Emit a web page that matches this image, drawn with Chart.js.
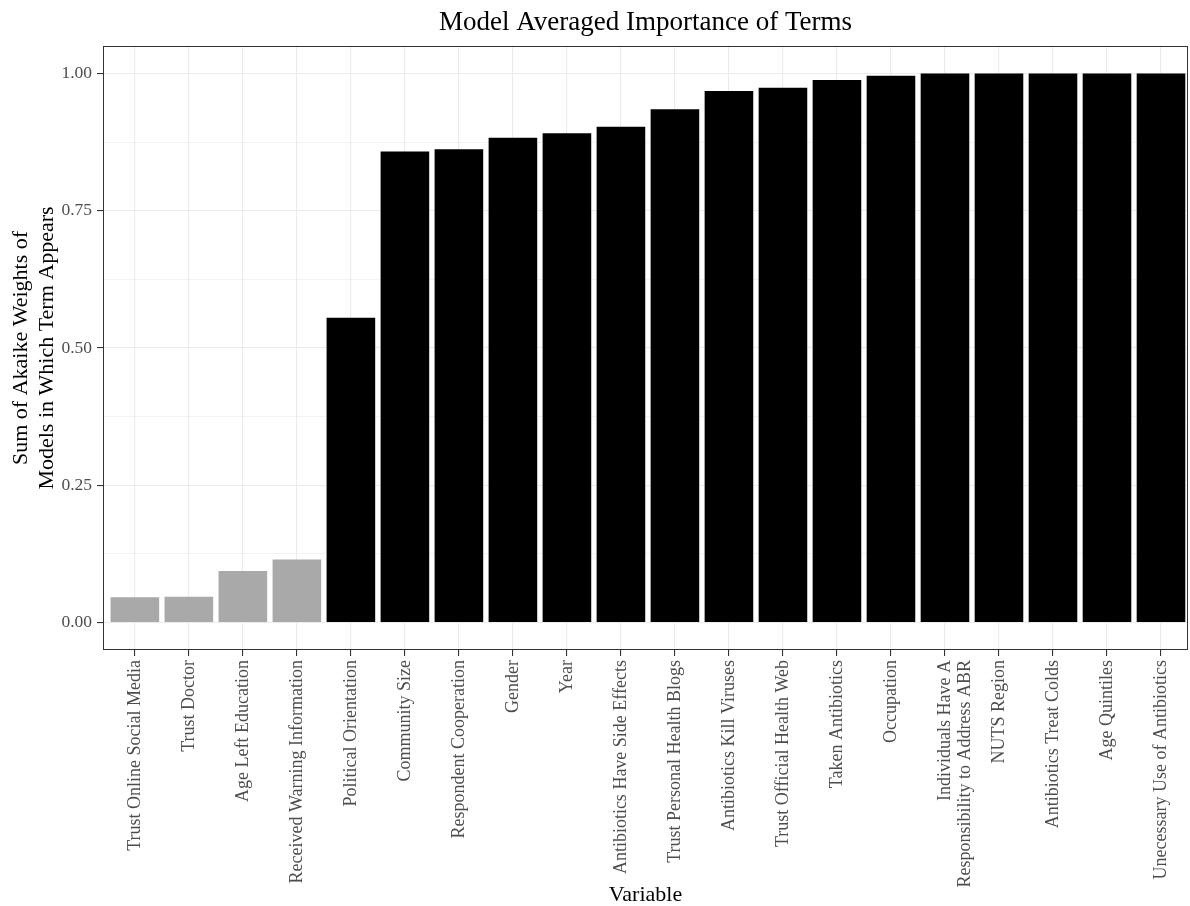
<!DOCTYPE html>
<html>
<head>
<meta charset="utf-8">
<title>Model Averaged Importance of Terms</title>
<script src="https://cdn.jsdelivr.net/npm/chart.js@4/dist/chart.umd.min.js"></script>
<style>
    body { margin: 0; background: #fff; }
    #wrap { width: 1190px; height: 906px; }
</style>
</head>
<body>
<div id="wrap"><canvas id="chart" width="1190" height="906"></canvas></div>
<script>
// =====================
// DATA
// =====================
const variables = [
    "Trust Online Social Media",
    "Trust Doctor",
    "Age Left Education",
    "Received Warning Information",
    "Political Orientation",
    "Community Size",
    "Respondent Cooperation",
    "Gender",
    "Year",
    "Antibiotics Have Side Effects",
    "Trust Personal Health Blogs",
    "Antibiotics Kill Viruses",
    "Trust Official Health Web",
    "Taken Antibiotics",
    "Occupation",
    ["Individuals Have A", "Responsibility to Address ABR"],
    "NUTS Region",
    "Antibiotics Treat Colds",
    "Age Quintiles",
    "Unecessary Use of Antibiotics"
];

const importance = [
    0.046, 0.047, 0.094, 0.115, 0.555,
    0.858, 0.862, 0.883, 0.891, 0.903,
    0.935, 0.968, 0.974, 0.988, 0.996,
    1.000, 1.000, 1.000, 1.000, 1.000
];

const yTickValues = [0, 0.25, 0.5, 0.75, 1];
const yTickLabels = ["0.00", "0.25", "0.50", "0.75", "1.00"];
const yMinorValues = [0.125, 0.375, 0.625, 0.875];

const titleText = "Model Averaged Importance of Terms";
const yTitle = ["Sum of Akaike Weights of", "Models in Which Term Appears"];
const xTitle = "Variable";

// =====================
// STYLE
// =====================
const FONT = "'Liberation Serif', 'Times New Roman', serif";
const GRID = "#EBEBEB";
const AXIS = "#333333";
const TICK_TEXT = "#4D4D4D";

function isMajor(v) {
    return yTickValues.some(t => Math.abs(t - v) < 1e-9);
}

// panel border + title centred over the panel
const panelPlugin = {
    id: "panel",
    afterDraw(chart) {
        const ctx = chart.ctx;
        const a = chart.chartArea;
        ctx.save();
        ctx.strokeStyle = AXIS;
        ctx.lineWidth = 1;
        ctx.strokeRect(Math.round(a.left) + 0.5, Math.round(a.top) + 0.5,
            Math.round(a.right - a.left) - 1, Math.round(a.bottom - a.top) - 1);

        ctx.fillStyle = "#000";
        ctx.font = "27px " + FONT;
        ctx.textAlign = "center";
        ctx.textBaseline = "middle";
        ctx.fillText(titleText, (a.left + a.right) / 2, 23);
        ctx.restore();
    }
};

// =====================
// CHART
// =====================
new Chart(document.getElementById("chart"), {
    type: "bar",
    data: {
        labels: variables,
        datasets: [{
            data: importance,
            backgroundColor: c => (c.raw < 0.5 ? "#A9A9A9" : "#000000"),
            borderWidth: 0,
            barPercentage: 0.9,
            categoryPercentage: 1.0
        }]
    },
    options: {
        responsive: false,
        animation: false,
        layout: { padding: { top: 46, right: 2, left: 0, bottom: 0 } },
        plugins: {
            legend: { display: false },
            tooltip: { enabled: false }
        },
        scales: {
            x: {
                offset: true,
                // a little more room on the left like ggplot's expansion
                afterBuildTicks(scale) {
                    scale._startValue = -0.59;
                    scale._valueRange = variables.length + 0.09;
                },
                grid: {
                    offset: false,
                    color: GRID,
                    lineWidth: 1.1,
                    tickColor: AXIS,
                    tickLength: 6,
                    drawTicks: true
                },
                border: { display: false },
                ticks: {
                    minRotation: 90,
                    maxRotation: 90,
                    autoSkip: false,
                    padding: 4,
                    color: TICK_TEXT,
                    font: { family: FONT, size: 18, lineHeight: 1.1 }
                },
                title: {
                    display: true,
                    text: xTitle,
                    color: "#000",
                    padding: { top: 0, bottom: 0 },
                    font: { family: FONT, size: 22, lineHeight: 1.0 }
                },
                afterFit(scale) { scale.height = 256; }
            },
            y: {
                min: -0.05,
                max: 1.05,
                afterBuildTicks(scale) {
                    scale.ticks = yTickValues.concat(yMinorValues)
                        .sort((p, q) => p - q)
                        .map(v => ({ value: v }));
                },
                grid: {
                    color: GRID,
                    lineWidth: c => (isMajor(c.tick.value) ? 1.1 : 0.6),
                    tickColor: c => (isMajor(c.tick.value) ? AXIS : "rgba(0,0,0,0)"),
                    tickLength: 6
                },
                border: { display: false },
                ticks: {
                    padding: 5,
                    color: TICK_TEXT,
                    font: { family: FONT, size: 17.5 },
                    callback: v => {
                        const i = yTickValues.findIndex(t => Math.abs(t - v) < 1e-9);
                        return i >= 0 ? yTickLabels[i] : "";
                    }
                },
                title: {
                    display: true,
                    text: yTitle,
                    color: "#000",
                    padding: { top: 9, bottom: 0 },
                    font: { family: FONT, size: 22, lineHeight: 1.15 }
                },
                afterFit(scale) { scale.width = 103; }
            }
        }
    },
    plugins: [panelPlugin]
});
</script>
</body>
</html>
